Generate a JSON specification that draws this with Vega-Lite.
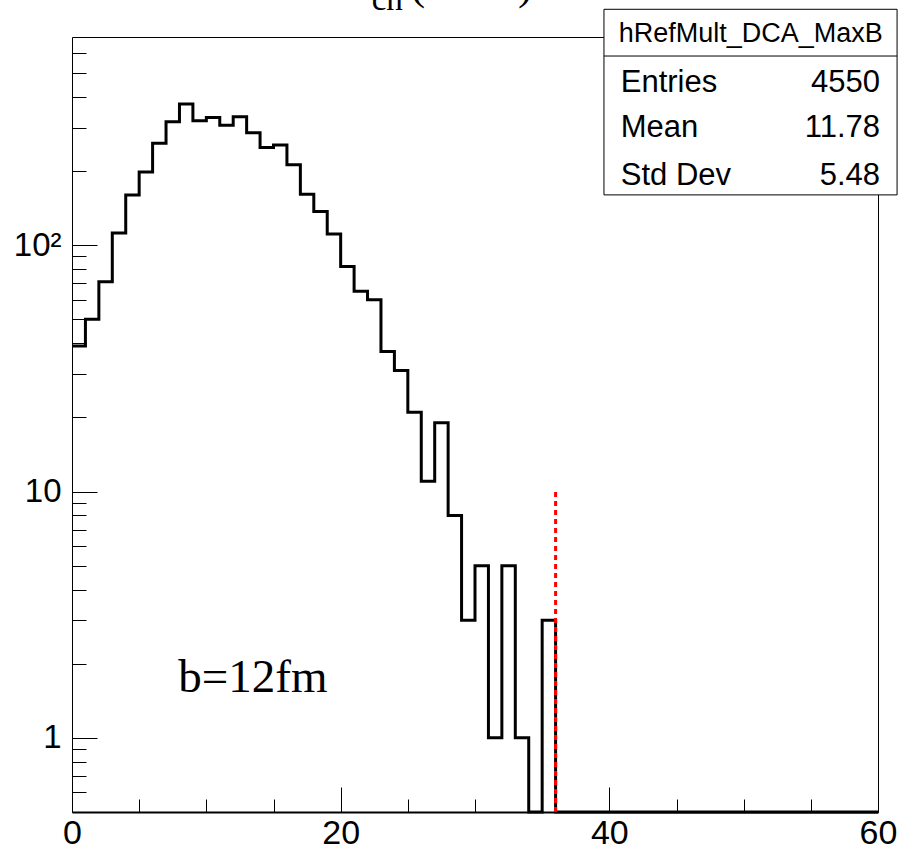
{
  "$schema": "https://vega.github.io/schema/vega-lite/v6.json",
  "width": 806,
  "height": 775,
  "autosize": {"type": "none"},
  "padding": {"left": 72, "top": 37, "right": 22, "bottom": 38},
  "background": "white",
  "config": {
    "view": {"stroke": "black", "strokeWidth": 1},
    "axis": {"grid": false, "domain": false, "labelFont": "Liberation Sans", "labelColor": "black", "tickColor": "black", "tickWidth": 1, "title": null}
  },
  "resolve": {"scale": {"y": "independent"}, "axis": {"x": "independent", "y": "independent"}},
  "layer": [
    {
      "data": {"values": [
        {"bin": 0, "count": 39}, {"bin": 1, "count": 50}, {"bin": 2, "count": 71}, {"bin": 3, "count": 112},
        {"bin": 4, "count": 160}, {"bin": 5, "count": 198}, {"bin": 6, "count": 259}, {"bin": 7, "count": 317},
        {"bin": 8, "count": 374}, {"bin": 9, "count": 320}, {"bin": 10, "count": 330}, {"bin": 11, "count": 307},
        {"bin": 12, "count": 332}, {"bin": 13, "count": 286}, {"bin": 14, "count": 249}, {"bin": 15, "count": 255},
        {"bin": 16, "count": 212}, {"bin": 17, "count": 161}, {"bin": 18, "count": 137}, {"bin": 19, "count": 111},
        {"bin": 20, "count": 82}, {"bin": 21, "count": 65}, {"bin": 22, "count": 60}, {"bin": 23, "count": 37},
        {"bin": 24, "count": 31}, {"bin": 25, "count": 21}, {"bin": 26, "count": 11}, {"bin": 27, "count": 19},
        {"bin": 28, "count": 8}, {"bin": 29, "count": 3}, {"bin": 30, "count": 5}, {"bin": 31, "count": 1},
        {"bin": 32, "count": 5}, {"bin": 33, "count": 1}, {"bin": 34, "count": 0}, {"bin": 35, "count": 3},
        {"bin": 36, "count": 0}, {"bin": 37, "count": 0}, {"bin": 38, "count": 0}, {"bin": 39, "count": 0},
        {"bin": 40, "count": 0}, {"bin": 41, "count": 0}, {"bin": 42, "count": 0}, {"bin": 43, "count": 0},
        {"bin": 44, "count": 0}, {"bin": 45, "count": 0}, {"bin": 46, "count": 0}, {"bin": 47, "count": 0},
        {"bin": 48, "count": 0}, {"bin": 49, "count": 0}, {"bin": 50, "count": 0}, {"bin": 51, "count": 0},
        {"bin": 52, "count": 0}, {"bin": 53, "count": 0}, {"bin": 54, "count": 0}, {"bin": 55, "count": 0},
        {"bin": 56, "count": 0}, {"bin": 57, "count": 0}, {"bin": 58, "count": 0}, {"bin": 59, "count": 0}, {"bin": 60, "count": 0}
      ]},
      "mark": {"type": "line", "interpolate": "step-after", "color": "black", "strokeWidth": 3, "invalid": "show"},
      "encoding": {
        "x": {"field": "bin", "type": "quantitative", "scale": {"domain": [0, 60], "nice": false, "zero": false},
              "axis": {"orient": "bottom", "values": [0, 20, 40, 60], "tickSize": -25, "labelFontSize": 34, "labelPadding": 29, "labelFlush": false, "labelOverlap": false,
                       "domain": true, "domainColor": "black", "domainWidth": 2}},
        "y": {"field": "count", "type": "quantitative", "scale": {"type": "log", "domain": [0.5, 700], "clamp": true, "nice": false},
              "axis": {"orient": "left", "values": [1, 10, 100], "tickSize": -25, "labelFontSize": 33, "labelPadding": 36, "labelOverlap": false,
                       "labelExpr": "datum.value >= 100 ? '10²' : datum.label"}}
      }
    },
    {
      "data": {"values": [{}]},
      "mark": {"type": "rule", "color": "#ff0000", "strokeWidth": 3, "strokeDash": [5, 4]},
      "encoding": {
        "x": {"datum": 36, "type": "quantitative", "scale": {"domain": [0, 60], "nice": false, "zero": false},
              "axis": {"orient": "bottom", "values": [5, 10, 15, 25, 30, 35, 45, 50, 55], "tickSize": -13, "labels": false}},
        "y": {"datum": 0.5, "type": "quantitative", "scale": {"type": "log", "domain": [0.5, 700], "nice": false},
              "axis": {"orient": "left", "values": [0.6, 0.7, 0.8, 0.9, 2, 3, 4, 5, 6, 7, 8, 9, 20, 30, 40, 50, 60, 70, 80, 90, 200, 300, 400, 500, 600], "tickSize": -14, "labels": false}},
        "y2": {"datum": 10}
      }
    },
    {
      "data": {"values": [{}]},
      "mark": {"type": "rect", "fill": "white", "stroke": "black", "strokeWidth": 1},
      "encoding": {
        "x": {"datum": 39.6, "type": "quantitative", "scale": {"domain": [0, 60], "nice": false, "zero": false}, "axis": null},
        "x2": {"datum": 61.42},
        "y": {"datum": 907, "type": "quantitative", "scale": {"type": "log", "domain": [0.5, 700], "nice": false}, "axis": null},
        "y2": {"datum": 160}
      }
    },
    {
      "data": {"values": [{}]},
      "mark": {"type": "rule", "color": "black", "strokeWidth": 1},
      "encoding": {
        "x": {"datum": 39.6, "type": "quantitative", "scale": {"domain": [0, 60], "nice": false, "zero": false}, "axis": null},
        "x2": {"datum": 61.42},
        "y": {"datum": 586, "type": "quantitative", "scale": {"type": "log", "domain": [0.5, 700], "nice": false}, "axis": null}
      }
    },
    {
      "data": {"values": [{}]},
      "mark": {"type": "text", "text": "hRefMult_DCA_MaxB", "font": "Liberation Sans", "fontSize": 27, "align": "center", "baseline": "alphabetic", "color": "black"},
      "encoding": {
        "x": {"datum": 50.53, "type": "quantitative", "scale": {"domain": [0, 60], "nice": false, "zero": false}, "axis": null},
        "y": {"datum": 670, "type": "quantitative", "scale": {"type": "log", "domain": [0.5, 700], "nice": false}, "axis": null}
      }
    },
    {
      "data": {"values": [{}]},
      "mark": {"type": "text", "text": "Entries", "font": "Liberation Sans", "fontSize": 31, "align": "left", "baseline": "alphabetic", "color": "black"},
      "encoding": {
        "x": {"datum": 40.85, "type": "quantitative", "scale": {"domain": [0, 60], "nice": false, "zero": false}, "axis": null},
        "y": {"datum": 418.7, "type": "quantitative", "scale": {"type": "log", "domain": [0.5, 700], "nice": false}, "axis": null}
      }
    },
    {
      "data": {"values": [{}]},
      "mark": {"type": "text", "text": "4550", "font": "Liberation Sans", "fontSize": 31, "align": "right", "baseline": "alphabetic", "color": "black"},
      "encoding": {
        "x": {"datum": 60.15, "type": "quantitative", "scale": {"domain": [0, 60], "nice": false, "zero": false}, "axis": null},
        "y": {"datum": 418.7, "type": "quantitative", "scale": {"type": "log", "domain": [0.5, 700], "nice": false}, "axis": null}
      }
    },
    {
      "data": {"values": [{}]},
      "mark": {"type": "text", "text": "Mean", "font": "Liberation Sans", "fontSize": 31, "align": "left", "baseline": "alphabetic", "color": "black"},
      "encoding": {
        "x": {"datum": 40.85, "type": "quantitative", "scale": {"domain": [0, 60], "nice": false, "zero": false}, "axis": null},
        "y": {"datum": 274.1, "type": "quantitative", "scale": {"type": "log", "domain": [0.5, 700], "nice": false}, "axis": null}
      }
    },
    {
      "data": {"values": [{}]},
      "mark": {"type": "text", "text": "11.78", "font": "Liberation Sans", "fontSize": 31, "align": "right", "baseline": "alphabetic", "color": "black"},
      "encoding": {
        "x": {"datum": 60.15, "type": "quantitative", "scale": {"domain": [0, 60], "nice": false, "zero": false}, "axis": null},
        "y": {"datum": 274.1, "type": "quantitative", "scale": {"type": "log", "domain": [0.5, 700], "nice": false}, "axis": null}
      }
    },
    {
      "data": {"values": [{}]},
      "mark": {"type": "text", "text": "Std Dev", "font": "Liberation Sans", "fontSize": 31, "align": "left", "baseline": "alphabetic", "color": "black"},
      "encoding": {
        "x": {"datum": 40.85, "type": "quantitative", "scale": {"domain": [0, 60], "nice": false, "zero": false}, "axis": null},
        "y": {"datum": 175.6, "type": "quantitative", "scale": {"type": "log", "domain": [0.5, 700], "nice": false}, "axis": null}
      }
    },
    {
      "data": {"values": [{}]},
      "mark": {"type": "text", "text": "5.48", "font": "Liberation Sans", "fontSize": 31, "align": "right", "baseline": "alphabetic", "color": "black"},
      "encoding": {
        "x": {"datum": 60.15, "type": "quantitative", "scale": {"domain": [0, 60], "nice": false, "zero": false}, "axis": null},
        "y": {"datum": 175.6, "type": "quantitative", "scale": {"type": "log", "domain": [0.5, 700], "nice": false}, "axis": null}
      }
    },
    {
      "data": {"values": [{}]},
      "mark": {"type": "text", "text": "b=12fm", "font": "Liberation Serif", "fontSize": 47, "align": "left", "baseline": "alphabetic", "color": "black"},
      "encoding": {
        "x": {"datum": 7.91, "type": "quantitative", "scale": {"domain": [0, 60], "nice": false, "zero": false}, "axis": null},
        "y": {"datum": 1.54, "type": "quantitative", "scale": {"type": "log", "domain": [0.5, 700], "nice": false}, "axis": null}
      }
    },
    {
      "data": {"values": [{}]},
      "mark": {"type": "text", "text": "N", "font": "Liberation Serif", "fontSize": 46, "align": "right", "baseline": "alphabetic", "color": "black"},
      "encoding": {
        "x": {"datum": 22.2, "type": "quantitative", "scale": {"domain": [0, 60], "nice": false, "zero": false}, "axis": null},
        "y": {"datum": 1000, "type": "quantitative", "scale": {"type": "log", "domain": [0.5, 700], "nice": false}, "axis": null}
      }
    },
    {
      "data": {"values": [{}]},
      "mark": {"type": "text", "text": "ch", "font": "Liberation Serif", "fontSize": 33, "align": "left", "baseline": "alphabetic", "color": "black"},
      "encoding": {
        "x": {"datum": 22.31, "type": "quantitative", "scale": {"domain": [0, 60], "nice": false, "zero": false}, "axis": null},
        "y": {"datum": 905, "type": "quantitative", "scale": {"type": "log", "domain": [0.5, 700], "nice": false}, "axis": null}
      }
    },
    {
      "data": {"values": [{}]},
      "mark": {"type": "text", "text": "(DCA)", "font": "Liberation Serif", "fontSize": 44, "align": "left", "baseline": "alphabetic", "color": "black"},
      "encoding": {
        "x": {"datum": 25.2, "type": "quantitative", "scale": {"domain": [0, 60], "nice": false, "zero": false}, "axis": null},
        "y": {"datum": 1000, "type": "quantitative", "scale": {"type": "log", "domain": [0.5, 700], "nice": false}, "axis": null}
      }
    }
  ]
}
